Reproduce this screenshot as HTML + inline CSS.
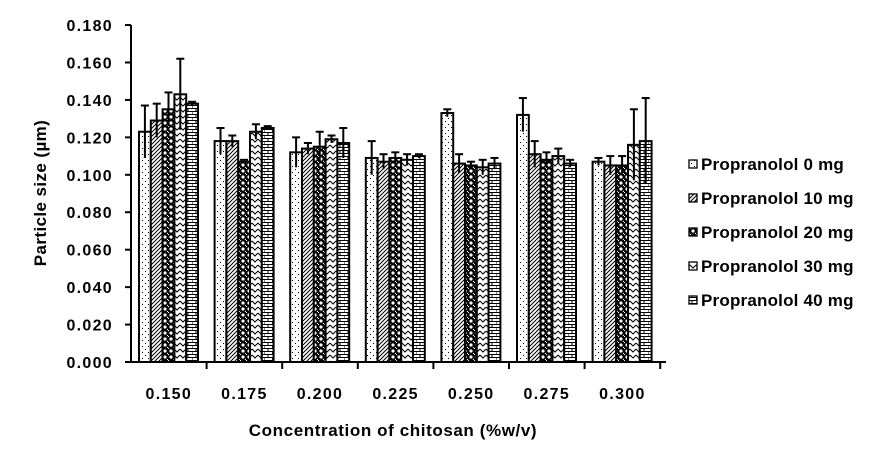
<!DOCTYPE html><html><head><style>body{margin:0;background:#fff}svg{display:block}text{font-family:"Liberation Sans",Arial,sans-serif;font-weight:bold;fill:#000}</style></head><body>
<svg id="s" width="890" height="467" xmlns="http://www.w3.org/2000/svg">
<defs>
<pattern id="p0" width="6" height="6" patternUnits="userSpaceOnUse"><rect width="6" height="6" fill="#fff"/><rect x="1" y="1" width="1" height="1" fill="#000"/><rect x="4" y="4" width="1" height="1" fill="#000"/></pattern>
<pattern id="p1" width="4" height="4" patternUnits="userSpaceOnUse"><rect width="4" height="4" fill="#fff"/><path d="M-1,5 L5,-1 M-1,1 L1,-1 M3,5 L5,3" stroke="#000" stroke-width="1"/></pattern>
<pattern id="p2" width="6" height="6" patternUnits="userSpaceOnUse"><rect width="6" height="6" fill="#000"/><circle cx="3" cy="3" r="1.6" fill="#fff"/><circle cx="0" cy="0" r="1.2" fill="#fff"/><circle cx="6" cy="6" r="1.2" fill="#fff"/></pattern>
<pattern id="p3" width="6" height="6" patternUnits="userSpaceOnUse"><rect width="6" height="6" fill="#fff"/><path d="M0,1 L3,4 L6,1" stroke="#000" fill="none" stroke-width="1"/></pattern>
<pattern id="p4" width="8" height="6" patternUnits="userSpaceOnUse"><rect width="8" height="6" fill="#fff"/><path d="M0,0.5 H8 M0,3.5 H8 M4,0 V3 M0,3 V6" stroke="#000" stroke-width="1"/></pattern>
</defs>
<g id="g"></g>
</svg>
<script>
const v=[[.123,.129,.135,.143,.138],[.118,.118,.107,.123,.125],[.112,.114,.115,.119,.117],[.109,.107,.109,.108,.110],[.133,.106,.105,.104,.106],[.132,.111,.108,.110,.106],[.107,.105,.105,.116,.118]];
const e=[[.137,.138,.144,.162,.139],[.125,.121,.108,.127,.126],[.120,.117,.123,.121,.125],[.118,.111,.112,.111,.111],[.135,.111,.107,.108,.109],[.141,.118,.112,.114,.108],[.109,.110,.110,.135,.141]];
const Y=x=>362-x*1872;let h='';
for(let i=0;i<=9;i++){let y=Y(i*.02);h+=`<line x1="125" x2="131" y1="${y}" y2="${y}" stroke="#000" stroke-width="2"/><text x="113" y="${y+6}" font-size="16" letter-spacing="1.3" text-anchor="end">${(i*.02).toFixed(3)}</text>`;}
const lab=['0.150','0.175','0.200','0.225','0.250','0.275','0.300'];
for(let g=0;g<7;g++){let x0=131+g*75.6;h+=`<line x1="${x0+75.6}" x2="${x0+75.6}" y1="362" y2="369" stroke="#000" stroke-width="2"/><text x="${x0+37.8}" y="399" font-size="16" letter-spacing="1.3" text-anchor="middle">${lab[g]}</text>`;
for(let b=0;b<5;b++){let x=x0+8+b*11.8,yv=Y(v[g][b]),ye=Y(e[g][b]),d=ye-yv;
h+=`<rect x="${x}" y="${yv}" width="11.8" height="${362-yv}" fill="url(#p${b})" stroke="#000" stroke-width="2"/>`;
let xc=x+5.9;h+=`<line x1="${xc}" x2="${xc}" y1="${ye}" y2="${yv-d}" stroke="#000" stroke-width="2"/><line x1="${xc-4}" x2="${xc+4}" y1="${ye}" y2="${ye}" stroke="#000" stroke-width="2"/>`;}}
h+=`<line x1="131" x2="131" y1="25" y2="362" stroke="#000" stroke-width="2"/><line x1="131" x2="666" y1="362" y2="362" stroke="#000" stroke-width="2"/>`;
h+=`<text x="393" y="436" font-size="17" letter-spacing="0.6" text-anchor="middle">Concentration of chitosan (%w/v)</text><text transform="translate(46,193) rotate(-90)" font-size="17" letter-spacing="0.4" text-anchor="middle">Particle size (µm)</text>`;
const ln=['0','10','20','30','40'];
for(let i=0;i<5;i++){let y=170+i*34;h+=`<rect x="689" y="${y-10}" width="8" height="8" fill="url(#p${i})" stroke="#000" stroke-width="1.3"/><text x="701" y="${y}" font-size="17" letter-spacing="0.2">Propranolol ${ln[i]} mg</text>`;}
document.getElementById('g').innerHTML=h;
</script></body></html>
